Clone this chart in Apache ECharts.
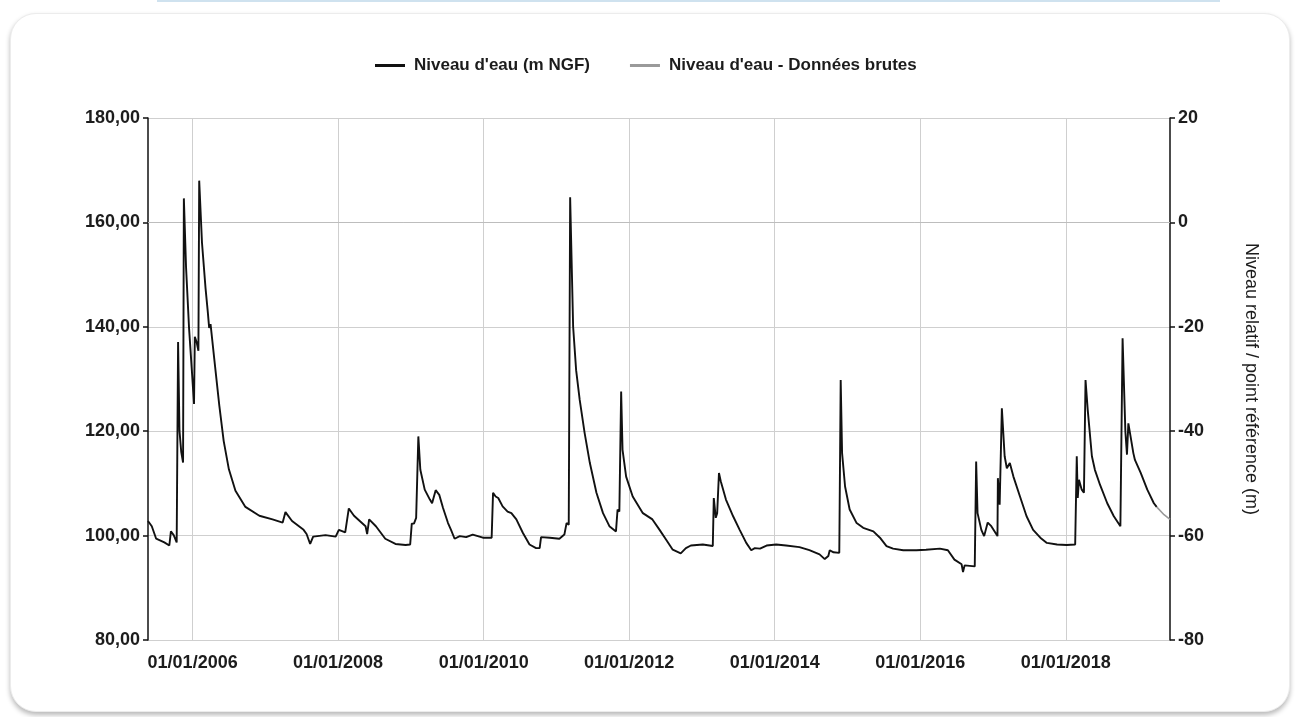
<!DOCTYPE html>
<html lang="fr">
<head>
<meta charset="utf-8">
<title>Niveau d'eau</title>
<script src="https://cdn.jsdelivr.net/npm/echarts@6/dist/echarts.min.js"></script>
<style>
  html, body { margin: 0; padding: 0; background: #ffffff; }
  body { width: 1296px; height: 717px; position: relative; overflow: hidden; }
  #topbar { position: absolute; left: 157px; top: 0; width: 1063px; height: 2px; background: #cfe2ef; }
  #card {
    position: absolute; left: 10px; top: 13px; width: 1278px; height: 697px;
    border-radius: 26px; background: #ffffff;
    border: 1px solid #ececec;
    box-shadow: 0 3px 5px rgba(0,0,0,0.28);
  }
  #chart { position: absolute; left: 0; top: 0; width: 1296px; height: 717px; }
</style>
</head>
<body>
<div id="topbar"></div>
<div id="card"></div>
<div id="chart"></div>
<script>
// Niveau d'eau (m NGF) : relevés validés
const niveauDates = [
  '2005-05-22','2005-06-10','2005-07-02','2005-07-21','2005-08-12','2005-09-06','2005-09-14','2005-09-28',
  '2005-10-13','2005-10-20','2005-10-27','2005-11-05','2005-11-14','2005-11-18','2005-11-29','2005-12-14',
  '2005-12-28','2006-01-08','2006-01-12','2006-01-21','2006-01-30','2006-02-03','2006-02-17','2006-03-07',
  '2006-03-18','2006-03-25','2006-04-01','2006-04-20','2006-05-15','2006-06-06','2006-07-02','2006-08-04',
  '2006-09-23','2006-12-02','2007-02-06','2007-03-29','2007-04-12','2007-05-15','2007-07-12','2007-07-27',
  '2007-08-14','2007-08-29','2007-10-30','2007-12-20','2008-01-05','2008-02-06','2008-02-24','2008-03-21',
  '2008-05-18','2008-05-26','2008-06-05','2008-07-09','2008-08-25','2008-10-15','2008-12-05','2008-12-28',
  '2009-01-05','2009-01-16','2009-01-27','2009-02-07','2009-02-17','2009-03-11','2009-04-06','2009-04-17',
  '2009-05-05','2009-05-23','2009-06-11','2009-07-06','2009-07-21','2009-08-08','2009-09-03','2009-10-05',
  '2009-11-07','2009-12-28','2010-02-10','2010-02-17','2010-03-02','2010-03-15','2010-04-06','2010-05-01',
  '2010-05-20','2010-06-14','2010-07-17','2010-08-19','2010-09-21','2010-10-09','2010-10-16','2010-11-29',
  '2011-01-16','2011-02-10','2011-02-21','2011-03-04','2011-03-11','2011-03-26','2011-04-10','2011-04-28',
  '2011-05-23','2011-06-18','2011-07-21','2011-08-23','2011-09-24','2011-10-27','2011-11-04','2011-11-13',
  '2011-11-22','2011-11-29','2011-12-17','2012-01-19','2012-03-10','2012-04-27','2012-06-02','2012-07-05',
  '2012-08-07','2012-09-16','2012-10-12','2012-11-06','2013-01-05','2013-02-24','2013-03-01','2013-03-11',
  '2013-03-18','2013-03-27','2013-04-05','2013-05-01','2013-06-06','2013-07-09','2013-08-11','2013-09-05',
  '2013-09-23','2013-10-19','2013-11-21','2014-01-08','2014-02-27','2014-05-05','2014-06-24','2014-08-14',
  '2014-09-09','2014-09-27','2014-10-04','2014-10-23','2014-11-21','2014-11-28','2014-12-05','2014-12-20',
  '2015-01-12','2015-02-16','2015-03-21','2015-05-11','2015-06-13','2015-07-16','2015-08-18','2015-10-08',
  '2015-12-13','2016-01-30','2016-04-09','2016-05-19','2016-06-21','2016-07-27','2016-08-03','2016-08-11',
  '2016-10-01','2016-10-08','2016-10-15','2016-11-03','2016-11-17','2016-12-05','2016-12-23','2017-01-23',
  '2017-01-25','2017-02-03','2017-02-14','2017-02-28','2017-03-11','2017-03-26','2017-04-13','2017-05-16',
  '2017-06-18','2017-07-21','2017-08-26','2017-09-28','2017-11-18','2018-01-05','2018-02-17','2018-02-25',
  '2018-03-02','2018-03-08','2018-03-22','2018-04-02','2018-04-10','2018-04-21','2018-05-12','2018-05-27',
  '2018-06-22','2018-07-28','2018-08-30','2018-10-02','2018-10-09','2018-10-13','2018-10-27','2018-11-04',
  '2018-11-11','2018-11-22','2018-12-06','2018-12-14','2019-01-12','2019-02-14','2019-03-19','2019-04-02'
];
const niveauValues = [
  102.8,101.8,99.4,99.1,98.7,98.1,100.8,100.1,
  98.7,137.1,120.1,116.0,114.0,164.6,151.4,139.8,
  131.7,125.2,138.1,137.1,135.4,168.0,156.1,147.3,
  142.9,139.8,140.5,133.7,124.9,118.1,112.7,108.6,
  105.5,103.8,103.1,102.5,104.5,102.8,101.1,100.3,
  98.4,99.8,100.1,99.8,101.1,100.6,105.2,103.8,
  101.8,100.3,103.1,101.8,99.4,98.4,98.2,98.3,
  102.3,102.3,103.4,119.0,112.6,108.8,106.9,106.2,
  108.7,107.8,105.3,102.4,101.1,99.4,99.9,99.7,
  100.2,99.6,99.6,108.2,107.5,107.2,105.6,104.6,
  104.3,103.1,100.5,98.3,97.6,97.6,99.7,99.6,
  99.4,100.2,102.4,102.1,164.8,140.0,131.7,126.0,
  119.6,113.9,108.2,104.3,101.8,100.8,105.0,104.6,
  127.6,116.4,111.3,107.5,104.3,103.1,101.1,99.2,
  97.3,96.6,97.6,98.1,98.3,98.0,107.2,103.4,
  104.3,112.0,110.4,106.9,103.7,101.1,98.6,97.2,
  97.6,97.5,98.1,98.3,98.1,97.8,97.2,96.4,
  95.5,96.1,97.2,96.8,96.7,129.8,115.8,109.4,
  105.0,102.4,101.5,100.8,99.6,98.0,97.5,97.2,
  97.2,97.3,97.5,97.2,95.4,94.5,93.0,94.3,
  94.1,114.2,104.3,101.1,99.9,102.5,101.8,99.9,
  111.0,105.9,124.4,115.2,112.9,113.9,111.3,107.5,
  103.7,101.1,99.6,98.6,98.3,98.2,98.3,115.2,
  107.2,110.7,108.8,108.2,129.8,124.1,115.2,112.6,
  109.7,106.2,103.7,101.8,101.5,137.8,119.9,115.5,
  121.5,119.0,115.8,114.5,112.0,108.8,106.2,105.5
];

// Niveau d'eau - Données brutes (fin de période, non validée)
const brutesDates = ['2019-04-02', '2019-05-09', '2019-06-08'];
const brutesValues = [105.5, 104.0, 103.1];

// Graduations de l'axe des dates
const xTickDates = ['2006-01-01','2008-01-01','2010-01-01','2012-01-01','2014-01-01','2016-01-01','2018-01-01'];
const xMinDate = '2005-05-22';
const xMaxDate = '2019-06-08';

const legendNames = ["Niveau d'eau (m NGF)", "Niveau d'eau - Données brutes"];
const rightAxisName = 'Niveau relatif / point référence (m)';

const toTime = s => new Date(s + 'T00:00:00').getTime();
const pad = n => (n < 10 ? '0' : '') + n;
const fmtDate = v => { const d = new Date(v); return pad(d.getDate()) + '/' + pad(d.getMonth() + 1) + '/' + d.getFullYear(); };

const niveauData = niveauDates.map((d, i) => [toTime(d), niveauValues[i]]);
const brutesData = brutesDates.map((d, i) => [toTime(d), brutesValues[i]]);
const tickTimes = xTickDates.map(toTime);

const FONT = '"Liberation Sans", Arial, sans-serif';
const TXT = '#1c1c1c';

const chart = echarts.init(document.getElementById('chart'), null, { renderer: 'canvas' });
chart.setOption({
  backgroundColor: 'transparent',
  animation: false,
  legend: {
    top: 52,
    left: 370,
    itemWidth: 30,
    itemHeight: 3,
    itemGap: 40,
    icon: 'rect',
    textStyle: { fontFamily: FONT, fontSize: 17, fontWeight: 'bold', color: TXT, padding: [0, 0, 0, 4] },
    data: legendNames
  },
  grid: { left: 148, right: 126, top: 118, bottom: 77, containLabel: false },
  xAxis: {
    type: 'value',
    min: toTime(xMinDate),
    max: toTime(xMaxDate),
    axisLine: { lineStyle: { color: '#bdbdbd', width: 1 } },
    axisTick: { show: false, customValues: tickTimes },
    splitLine: { show: true, lineStyle: { color: '#cfcfcf', width: 1 } },
    axisLabel: {
      customValues: tickTimes,
      formatter: v => fmtDate(v),
      margin: 14,
      fontFamily: FONT, fontSize: 18, fontWeight: 'bold', color: TXT
    }
  },
  yAxis: [
    {
      type: 'value',
      position: 'left',
      min: 80, max: 180, interval: 20,
      axisLine: { show: true, lineStyle: { color: '#111', width: 1.5 } },
      axisTick: { show: true, length: 5, lineStyle: { color: '#111', width: 1.5 } },
      splitLine: { show: true, lineStyle: { color: '#cfcfcf', width: 1 } },
      axisLabel: {
        margin: 8,
        formatter: v => v.toFixed(2).replace('.', ','),
        fontFamily: FONT, fontSize: 18, fontWeight: 'bold', color: TXT
      }
    },
    {
      type: 'value',
      position: 'right',
      min: -80, max: 20, interval: 20,
      name: rightAxisName,
      nameLocation: 'middle',
      nameRotate: -90,
      nameGap: 72,
      nameTextStyle: { fontFamily: FONT, fontSize: 18, color: TXT },
      axisLine: { show: true, lineStyle: { color: '#111', width: 1.5 } },
      axisTick: { show: true, length: 5, lineStyle: { color: '#111', width: 1.5 } },
      splitLine: { show: false },
      axisLabel: {
        margin: 8,
        fontFamily: FONT, fontSize: 18, fontWeight: 'bold', color: TXT
      }
    }
  ],
  series: [
    {
      name: legendNames[0],
      type: 'line',
      yAxisIndex: 0,
      data: niveauData,
      showSymbol: false,
      symbol: 'none',
      color: '#111111',
      lineStyle: { color: '#111111', width: 1.9 },
      z: 3
    },
    {
      name: legendNames[1],
      type: 'line',
      yAxisIndex: 0,
      data: brutesData,
      showSymbol: false,
      symbol: 'none',
      color: '#9a9a9a',
      lineStyle: { color: '#9a9a9a', width: 1.6 },
      z: 2
    }
  ]
});
</script>
</body>
</html>
